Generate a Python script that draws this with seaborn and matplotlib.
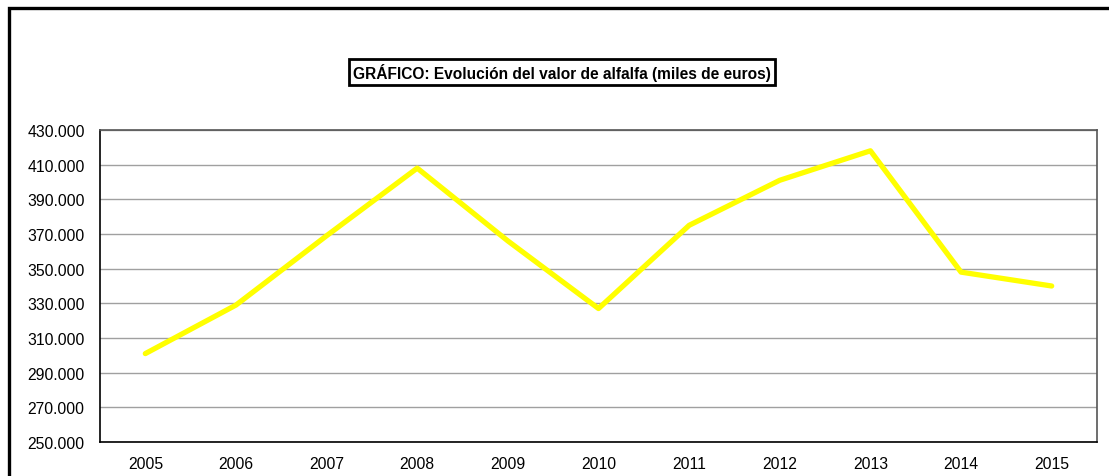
import numpy as np
import pandas as pd
import matplotlib
matplotlib.use("Agg")
import matplotlib.pyplot as plt
import matplotlib.ticker as mticker
from matplotlib.patches import Rectangle
import seaborn as sns

years = ["2005", "2006", "2007", "2008", "2009", "2010",
         "2011", "2012", "2013", "2014", "2015"]
valor = [301000, 329000, 369000, 408000, 366000, 327000,
         375000, 401000, 418000, 348000, 340000]
titulo = "GRÁFICO: Evolución del valor de alfalfa (miles de euros)"

df = pd.DataFrame({"year": years, "valor": valor})

sns.set_style("white")
plt.rcParams["font.family"] = ["Liberation Sans", "DejaVu Sans"]
plt.rcParams["text.color"] = "black"
plt.rcParams["xtick.color"] = "black"
plt.rcParams["ytick.color"] = "black"

fig = plt.figure(figsize=(11.09, 4.77), dpi=100)
ax = fig.add_axes([100 / 1109, 1 - 443 / 477, 997 / 1109, 312 / 477])

sns.lineplot(data=df, x="year", y="valor", color="#FFFF00", linewidth=3.8, ax=ax)

ax.set_ylim(250000, 430000)
ax.set_yticks(np.arange(250000, 430001, 20000))
ax.yaxis.set_major_formatter(mticker.FuncFormatter(lambda v, p: f"{v:,.0f}".replace(",", ".")))
ax.grid(axis="y", color="#a0a0a0", linewidth=1.0)
ax.set_axisbelow(True)

ax.set_xlim(-0.5, len(years) - 0.5)
ax.set_xticks(range(len(years)))
ax.set_xticklabels(years)
ax.set_xticks(np.arange(-0.5, len(years)), minor=True)
ax.tick_params(axis="x", which="major", length=0, pad=10, labelsize=11.3, labelcolor="black")
ax.tick_params(axis="x", which="minor", length=5, width=1, direction="out", color="black")
ax.tick_params(axis="y", length=5, width=1, direction="out", color="black", pad=6,
               labelsize=11.3, labelcolor="black")
ax.set_xlabel("")
ax.set_ylabel("")

for side in ["left", "bottom"]:
    ax.spines[side].set_color("black")
    ax.spines[side].set_linewidth(1.2)
for side in ["top", "right"]:
    ax.spines[side].set_color("#555555")
    ax.spines[side].set_linewidth(1.2)

# outer chart frame (runs past the right and bottom edges)
fig.patches.append(Rectangle((8.5 / 1109, -0.2), 1.5, 1.2 - 8.5 / 477,
                             transform=fig.transFigure, fill=False,
                             edgecolor="black", linewidth=2.4))

fig.text(562 / 1109, 1 - 73 / 477, titulo, ha="center", va="center",
         fontsize=11.2, fontweight="bold", color="black",
         bbox=dict(boxstyle="square,pad=0.25", facecolor="white",
                   edgecolor="black", linewidth=2.0))

fig.savefig("out.png", dpi=100)
